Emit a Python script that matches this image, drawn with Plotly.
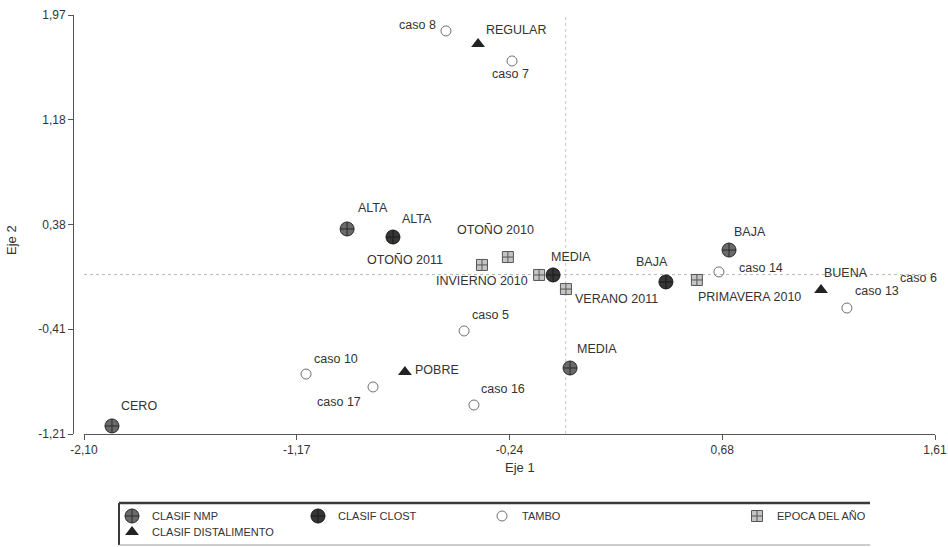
import plotly.graph_objects as go

# ---------------- data ----------------
nmp_labels = ["ALTA", "BAJA", "MEDIA", "CERO"]
nmp_x = [-0.953, 0.712, 0.019, -1.978]
nmp_y = [0.346, 0.186, -0.709, -1.149]

clost_labels = ["ALTA", "MEDIA", "BAJA"]
clost_x = [-0.753, -0.055, 0.437]
clost_y = [0.285, -0.003, -0.056]

tambo_labels = ["caso 8", "caso 7", "caso 14", "caso 13", "caso 5", "caso 10", "caso 17", "caso 16"]
tambo_x = [-0.522, -0.234, 0.668, 1.226, -0.443, -1.132, -0.840, -0.400]
tambo_y = [1.849, 1.621, 0.020, -0.254, -0.428, -0.755, -0.853, -0.990]

# label whose marker is not visible in the picture
tambo_extra_labels = ["caso 6"]
tambo_extra_x = [1.540]
tambo_extra_y = [-0.026]

epoca_labels = ["OTOÑO 2011", "OTOÑO 2010", "INVIERNO 2010", "VERANO 2011", "PRIMAVERA 2010"]
epoca_x = [-0.365, -0.252, -0.116, 0.001, 0.572]
epoca_y = [0.073, 0.133, -0.003, -0.110, -0.041]

dist_labels = ["REGULAR", "POBRE", "BUENA"]
dist_x = [-0.382, -0.701, 1.113]
dist_y = [1.750, -0.740, -0.117]

x_tickvals = [-2.10, -1.1725, -0.245, 0.6825, 1.61]
x_ticktext = ["-2,10", "-1,17", "-0,24", "0,68", "1,61"]
y_tickvals = [-1.21, -0.415, 0.38, 1.175, 1.97]
y_ticktext = ["-1,21", "-0,41", "0,38", "1,18", "1,97"]

# ---------------- figure geometry ----------------
W, H = 948, 547
ML, MR, MT, MB = 73, 13, 15, 113
PW = W - ML - MR
PH = H - MT - MB


def px2paper_x(px):
    return (px - ML) / PW


def px2paper_y(py):
    return (H - MB - py) / PH


FONT = "Liberation Sans, Arial, sans-serif"
TXT = "#333333"

fig = go.Figure()

# draw order: squares first so circles sit over them
fig.add_trace(go.Scatter(
    x=epoca_x, y=epoca_y, mode="markers", name="EPOCA DEL AÑO",
    marker=dict(symbol="square-cross", size=11, color="#c4c4c4",
                line=dict(color="#555555", width=1)),
    legend="legend4", cliponaxis=False))
fig.add_trace(go.Scatter(
    x=tambo_x, y=tambo_y, mode="markers", name="TAMBO",
    marker=dict(symbol="circle-open", size=10, color="#707070",
                line=dict(color="#707070", width=1)),
    legend="legend3", cliponaxis=False))
fig.add_trace(go.Scatter(
    x=nmp_x, y=nmp_y, mode="markers", name="CLASIF NMP",
    marker=dict(symbol="circle-cross", size=14, color="#6a6a6a",
                line=dict(color="#2a2a2a", width=1)),
    legend="legend", cliponaxis=False))
fig.add_trace(go.Scatter(
    x=clost_x, y=clost_y, mode="markers", name="CLASIF CLOST",
    marker=dict(symbol="circle-cross", size=14, color="#363636",
                line=dict(color="#1a1a1a", width=1)),
    legend="legend2", cliponaxis=False))
fig.add_trace(go.Scatter(
    x=dist_x, y=dist_y, mode="markers", name="CLASIF DISTALIMENTO",
    marker=dict(symbol="triangle-up", size=12, color="#222222",
                line=dict(color="#222222", width=0)),
    legend="legend5", cliponaxis=False))

# ---------------- point labels ----------------
label_offsets = {
    ("nmp", "ALTA"): (26, 21), ("nmp", "BAJA"): (21, 18),
    ("nmp", "MEDIA"): (27, 19), ("nmp", "CERO"): (27, 20),
    ("clost", "ALTA"): (24, 18), ("clost", "MEDIA"): (18, 18),
    ("clost", "BAJA"): (-14, 20),
    ("tambo", "caso 8"): (-28, 6), ("tambo", "caso 7"): (-2, -13),
    ("tambo", "caso 14"): (42, 4), ("tambo", "caso 13"): (30, 17),
    ("tambo", "caso 5"): (26, 16), ("tambo", "caso 10"): (30, 15),
    ("tambo", "caso 17"): (-34, -15), ("tambo", "caso 16"): (29, 16),
    ("tambo", "caso 6"): (0, 0),
    ("epoca", "OTOÑO 2011"): (-77, 5), ("epoca", "OTOÑO 2010"): (-12, 27),
    ("epoca", "INVIERNO 2010"): (-57, -6), ("epoca", "VERANO 2011"): (51, -10),
    ("epoca", "PRIMAVERA 2010"): (53, -17),
    ("dist", "REGULAR"): (38, 14), ("dist", "POBRE"): (32, 2),
    ("dist", "BUENA"): (25, 17),
}

series = [
    ("nmp", nmp_labels, nmp_x, nmp_y),
    ("clost", clost_labels, clost_x, clost_y),
    ("tambo", tambo_labels, tambo_x, tambo_y),
    ("tambo", tambo_extra_labels, tambo_extra_x, tambo_extra_y),
    ("epoca", epoca_labels, epoca_x, epoca_y),
    ("dist", dist_labels, dist_x, dist_y),
]
for key, labs, xs, ys in series:
    for lab, xv, yv in zip(labs, xs, ys):
        dx, dy = label_offsets[(key, lab)]
        fig.add_annotation(x=xv, y=yv, text=lab, showarrow=False,
                           xshift=dx, yshift=dy,
                           xanchor="center", yanchor="middle",
                           font=dict(family=FONT, size=12.5, color=TXT))

# dotted reference lines through the origin
fig.add_hline(y=0, line=dict(color="#b8b8b8", width=1, dash="dot"), layer="below")
fig.add_vline(x=0, line=dict(color="#c8c8c8", width=1, dash="dot"), layer="below")

# axis titles
fig.add_annotation(x=px2paper_x(520), y=px2paper_y(467), xref="paper", yref="paper",
                   text="Eje 1", showarrow=False, xanchor="center", yanchor="middle",
                   font=dict(family=FONT, size=13, color=TXT))
fig.add_annotation(x=px2paper_x(12), y=px2paper_y(240), xref="paper", yref="paper",
                   text="Eje 2", showarrow=False, textangle=-90,
                   xanchor="center", yanchor="middle",
                   font=dict(family=FONT, size=13, color=TXT))

# legend frame
top_y, bot_y = px2paper_y(503), px2paper_y(545)
left_x, right_x = px2paper_x(119), px2paper_x(870)
fig.add_shape(type="line", xref="paper", yref="paper", x0=left_x, x1=right_x,
              y0=top_y, y1=top_y, line=dict(color="#3a3a3a", width=2.5))
fig.add_shape(type="line", xref="paper", yref="paper", x0=left_x, x1=left_x,
              y0=top_y, y1=bot_y, line=dict(color="#3a3a3a", width=2))
fig.add_shape(type="line", xref="paper", yref="paper", x0=left_x, x1=right_x,
              y0=bot_y, y1=bot_y, line=dict(color="#9a9a9a", width=1))

legend_common = dict(orientation="h", xanchor="left", yanchor="middle",
                     bgcolor="rgba(0,0,0,0)", borderwidth=0,
                     font=dict(family=FONT, size=11, color=TXT))
row1, row2 = px2paper_y(516), px2paper_y(532)
legends = {
    "legend": dict(x=px2paper_x(112), y=row1, **legend_common),
    "legend2": dict(x=px2paper_x(298), y=row1, **legend_common),
    "legend3": dict(x=px2paper_x(482), y=row1, **legend_common),
    "legend4": dict(x=px2paper_x(737), y=row1, **legend_common),
    "legend5": dict(x=px2paper_x(112), y=row2, **legend_common),
}

fig.update_layout(
    width=W, height=H,
    margin=dict(l=ML, r=MR, t=MT, b=MB, autoexpand=False),
    paper_bgcolor="white", plot_bgcolor="white",
    showlegend=True,
    font=dict(family=FONT, color=TXT),
    xaxis=dict(range=[-2.10, 1.61], domain=[(84 - ML) / PW, 1],
               tickvals=x_tickvals, ticktext=x_ticktext,
               showgrid=False, zeroline=False,
               showline=True, linecolor="#555555", linewidth=1,
               ticks="outside", ticklen=5, tickcolor="#555555",
               tickfont=dict(family=FONT, size=12, color=TXT)),
    yaxis=dict(range=[-1.21, 1.97], anchor="free", position=0,
               tickvals=y_tickvals, ticktext=y_ticktext,
               showgrid=False, zeroline=False,
               showline=True, linecolor="#555555", linewidth=1,
               ticks="outside", ticklen=5, tickcolor="#555555",
               tickfont=dict(family=FONT, size=12, color=TXT)),
    **legends,
)

fig.write_html("out.html", config={"displayModeBar": False},
               post_script="document.body.style.margin='0px';")
